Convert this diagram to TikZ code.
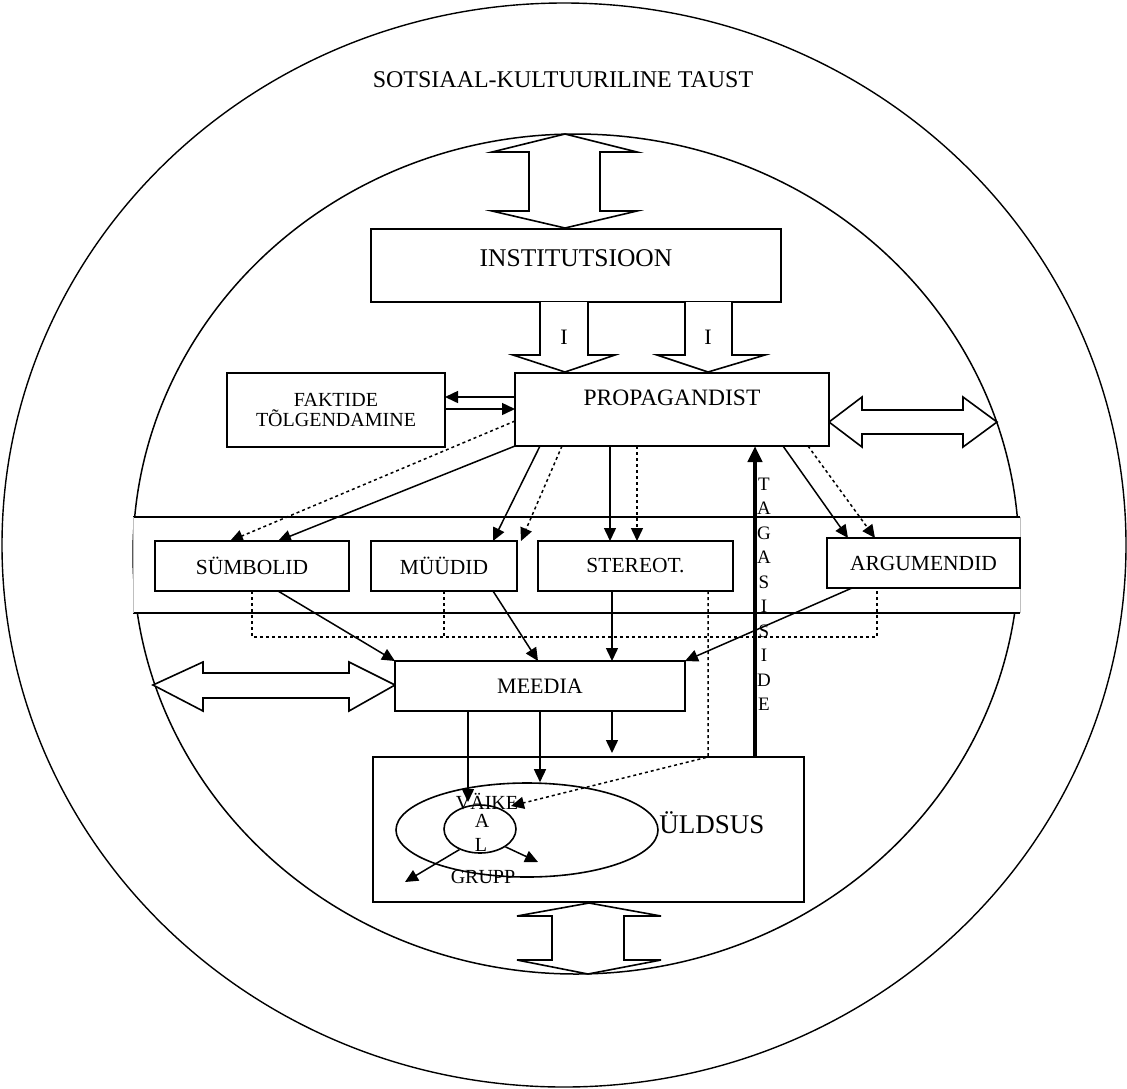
\documentclass[tikz,border=0pt]{standalone}
\usepackage{fontspec}
\setmainfont{Liberation Serif}
\usetikzlibrary{arrows.meta,shapes.geometric,calc}
\begin{document}
\begin{tikzpicture}[x=1pt,y=-1pt,
  box/.style={draw,line width=1.8pt,inner sep=0pt,outer sep=0pt,fill=white},
  lbl/.style={inner sep=0pt,font=\fontsize{20}{20}\selectfont},
  blbl/.style={font=\fontsize{21.5}{21.5}\selectfont},
  arr/.style={-{Triangle[length=13pt,width=12pt]},line width=1.5pt},
  dotarr/.style={arr,dash pattern=on 3pt off 3pt},
  dotln/.style={line width=1.5pt,dash pattern=on 3pt off 3pt},
  hollow/.style={draw,line width=1.6pt,fill=white,line join=miter}]
\useasboundingbox (0,0) rectangle (1127,1088);
% circles
\draw[line width=1.4pt] (564,545) ellipse [x radius=562pt,y radius=542pt];
\draw[line width=1.5pt] (576,554) ellipse [x radius=443pt,y radius=420pt];
\node[lbl,font=\fontsize{24}{24}\selectfont] (taust) at (563,80) {SOTSIAAL-KULTUURILINE TAUST};
% band
\fill[white] (133,517) rectangle (1020,613);
\draw[line width=1.5pt] (133,517) -- (1020,517) (133,613) -- (1020,613);
\draw[gray!50,line width=1pt] (133,517) -- (133,613) (1020,517) -- (1020,613);
% hollow double arrows
\draw[hollow] (565,134) -- (637,152) -- (600,152) -- (600,211) -- (637,211) -- (565,228) -- (492,211) -- (529,211) -- (529,152) -- (492,152) -- cycle;
\draw[hollow] (589,903) -- (661,916) -- (624,916) -- (624,960) -- (661,960) -- (588,974) -- (517,960) -- (552,960) -- (552,916) -- (517,916) -- cycle;
\draw[hollow] (829,422) -- (862,397) -- (862,410) -- (963,410) -- (963,397) -- (997,422) -- (963,447) -- (963,434) -- (862,434) -- (862,447) -- cycle;
\draw[hollow] (153,685) -- (203,662) -- (203,673) -- (349,673) -- (349,662) -- (395,685) -- (349,711) -- (349,698) -- (203,698) -- (203,711) -- cycle;
% boxes
\node[box,minimum width=410pt,minimum height=73pt] (inst) at (576,265.5) {};
\node[lbl,font=\fontsize{25.5}{25.5}\selectfont] (instt) at (576,258) {INSTITUTSIOON};
\draw[hollow] (540,0 |- inst.south) -- (540,355) -- (513,355) -- (565,372) -- (615,355) -- (588,355) -- (588,0 |- inst.south);
\draw[hollow] (685,0 |- inst.south) -- (685,355) -- (657,355) -- (708,372) -- (765,355) -- (732,355) -- (732,0 |- inst.south);
\node[lbl,font=\fontsize{22}{22}\selectfont] (i1) at (564,337) {I};
\node[lbl,font=\fontsize{22}{22}\selectfont] (i2) at (708,337) {I};
\node[box,minimum width=314pt,minimum height=73pt] (prop) at (672,409.5) {};
\node[lbl,font=\fontsize{23.5}{23.5}\selectfont] (propt) at (672,398) {PROPAGANDIST};
\node[box,minimum width=218pt,minimum height=74pt,align=center,font=\fontsize{20}{20}\selectfont] (fakt) at (336,410) {FAKTIDE\\TÕLGENDAMINE};
\node[box,blbl,minimum width=194pt,minimum height=50pt] (sym) at (252,566) {SÜMBOLID};
\node[box,blbl,minimum width=146pt,minimum height=50pt] (myy) at (444,566) {MÜÜDID};
\node[box,blbl,minimum width=195pt,minimum height=50pt] (ster) at (635.5,566) {STEREOT.};
\node[box,blbl,minimum width=193pt,minimum height=50pt] (arg) at (923.5,563) {ARGUMENDID};
\node[box,minimum width=290pt,minimum height=50pt,font=\fontsize{22}{22}\selectfont] (meedia) at (540,686) {MEEDIA};
\node[box,minimum width=431pt,minimum height=145pt] (uld) at (588.5,829.5) {};
\node[draw,ellipse,line width=1.6pt,inner sep=0pt,minimum width=262pt,minimum height=94pt] (bigell) at (527,830) {};
\node[draw,ellipse,line width=1.6pt,inner sep=0pt,minimum width=72pt,minimum height=48pt] (smell) at (480,829) {};
\node[lbl,font=\fontsize{27}{27}\selectfont] (uldt) at (712,823) {ÜLDSUS};
\node[lbl] (vk) at (487,802) {VÄIKE};
\node[lbl] (va) at (482,821) {A};
\node[lbl] (vl) at (481,845) {L};
\node[lbl] (gr) at (483,877) {GRUPP};
% fakt arrows
\draw[arr] (prop.west |- 0,397) -- (fakt.east |- 0,397);
\draw[arr] (fakt.east |- 0,409) -- (prop.west |- 0,409);
% prop to band boxes
\draw[arr] (prop.south west) -- (278,0 |- sym.north);
\draw[dotarr] (prop.west |- 0,421) -- (230,0 |- sym.north);
\draw[arr] (540,0 |- prop.south) -- (493,0 |- myy.north);
\draw[dotarr] (562,0 |- prop.south) -- (521,0 |- myy.north);
\draw[arr] (610,0 |- prop.south) -- (610,0 |- ster.north);
\draw[dotarr] (637,0 |- prop.south) -- (637,0 |- ster.north);
\draw[arr] (783,0 |- prop.south) -- (848,0 |- arg.north);
\draw[dotarr] (808,0 |- prop.south) -- (875,0 |- arg.north);
% band boxes to meedia
\draw[arr] (278,0 |- sym.south) -- (meedia.north west);
\draw[arr] (493,0 |- myy.south) -- (538,0 |- meedia.north);
\draw[arr] (612,0 |- ster.south) -- (612,0 |- meedia.north);
\draw[arr] (852,0 |- arg.south) -- (meedia.north east);
% dotted bracket
\coordinate (br) at (0,637);
\draw[dotln] (252,0 |- sym.south) -- (252,0 |- br) -- (877,0 |- br) -- (877,0 |- arg.south);
\draw[dotln] (444,0 |- myy.south) -- (444,0 |- br);
% stereot dotted to small group
\coordinate (vktip) at (511,806);
\draw[dotarr] (708,0 |- ster.south) -- (708,0 |- uld.north) -- (vktip);
% meedia to uldsus
\coordinate (m1tip) at (468,802);
\draw[arr] (468,0 |- meedia.south) -- (m1tip);
\draw[arr] (540,0 |- meedia.south) -- (540,0 |- bigell.north);
\draw[arr] (612,0 |- meedia.south) -- (612,753);
% tagasiside
\draw[line width=4.5pt,-{Triangle[length=16pt,width=14pt]}] (755,0 |- uld.north) -- (755,0 |- prop.south);
\foreach \ch [count=\i] in {T,A,G,A,S,I,S,I,D,E}
  \node[lbl,font=\fontsize{19}{19}\selectfont] (tg\i) at (764,{484+24.5*(\i-1)}) {\ch};
% inner group arrows
\coordinate (g1) at (405,882);
\coordinate (g2) at (538,862);
\draw[arr] (smell.-135) -- (g1);
\draw[arr] (smell.-35) -- (g2);
\end{tikzpicture}
\end{document}
